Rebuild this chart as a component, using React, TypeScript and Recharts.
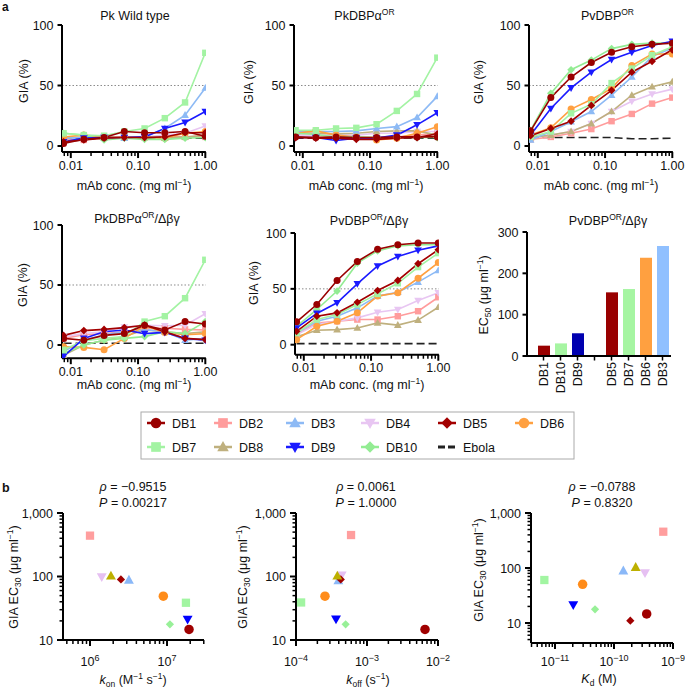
import React from 'react';
import { LineChart, Line, XAxis, YAxis, ReferenceLine, BarChart, Bar, Cell, ScatterChart, Scatter } from 'recharts';

const FONT = '"Liberation Sans", Arial, Helvetica, sans-serif';

// ---------- data ----------
const concentrations = [0.0078125, 0.015625, 0.03125, 0.0625, 0.125, 0.25, 0.5, 1];
const concTicks = [0.008, 0.009, 0.01, 0.02, 0.03, 0.04, 0.05, 0.06, 0.07, 0.08, 0.09, 0.1, 0.2, 0.3, 0.4, 0.5, 0.6, 0.7, 0.8, 0.9, 1];
const seriesOrder = ['Ebola', 'DB2', 'DB4', 'DB8', 'DB3', 'DB6', 'DB10', 'DB7', 'DB9', 'DB5', 'DB1'];
const legendRow1 = ['DB1', 'DB2', 'DB3', 'DB4', 'DB5', 'DB6'];
const legendRow2 = ['DB7', 'DB8', 'DB9', 'DB10', 'Ebola'];

const pkWildType: Record<string, number[]> = {
  DB1: [2, 5.5, 7, 12, 11, 11, 12, 8],
  DB2: [5.5, 5, 7, 7, 7, 7.5, 7.5, 7.5],
  DB3: [6.5, 7, 7, 6.5, 7.5, 14.5, 25.5, 48],
  DB4: [7, 7.5, 7.5, 7.5, 7.5, 9, 10.5, 16.5],
  DB5: [3.5, 5, 6.5, 7, 7, 7.5, 11, 11],
  DB6: [7.5, 9, 7.5, 7.5, 7, 6.5, 10.5, 12],
  DB7: [10.5, 9, 8.5, 12, 14.5, 23, 36, 77],
  DB8: [6.5, 7, 7, 7, 7.5, 6.5, 7.5, 9],
  DB9: [3.5, 6.5, 7, 7, 7.5, 14.5, 19.5, 28.5],
  DB10: [10.5, 9, 5, 6.5, 5.5, 5.5, 6.5, 7],
  Ebola: [6.5, 6.5, 6.5, 6.5, 6.5, 6.5, 6.5, 6.5],
};
const pkDbpAlpha: Record<string, number[]> = {
  DB1: [7.5, 7, 7.5, 7, 7, 7.5, 7.5, 7.5],
  DB2: [9, 8.5, 8.5, 7.5, 7, 7.5, 9, 10.5],
  DB3: [12, 12, 12, 12.5, 14.5, 16, 23.5, 41],
  DB4: [9, 9, 9, 9, 10.5, 10.5, 12, 12],
  DB5: [7, 6.5, 6.5, 5.5, 5.5, 6.5, 7, 10],
  DB6: [10.5, 12.5, 9, 7.5, 5, 6.5, 10.5, 16],
  DB7: [13, 13, 14.5, 15, 18, 29, 43, 73],
  DB8: [11, 10.5, 10, 10.5, 12, 12.5, 12.5, 9],
  DB9: [7, 7, 4.5, 6.5, 6.5, 9, 17.5, 27.5],
  DB10: [10.5, 9.5, 7.5, 7.5, 7, 7, 7, 7],
  Ebola: [6.5, 6.5, 6.5, 6.5, 6.5, 6.5, 6.5, 6.5],
};
const pvDbp: Record<string, number[]> = {
  DB1: [12.5, 40, 57, 69, 77.5, 82, 84, 85],
  DB2: [5.5, 7.5, 10.5, 14, 20.5, 26.5, 35, 40],
  DB3: [5, 12, 20, 28.5, 42, 57, 74, 81],
  DB4: [7, 9, 12, 18.5, 28.5, 37, 43, 47],
  DB5: [8.5, 14.5, 20.5, 33.5, 46, 61, 70, 79.5],
  DB6: [9, 15, 30.5, 38.5, 47.5, 66.5, 76, 76],
  DB7: [7.5, 12, 27, 34.5, 52, 64, 75, 82],
  DB8: [7, 9, 12, 18.5, 28.5, 42, 49, 53],
  DB9: [9, 31, 48, 61, 71.5, 77.5, 83, 86.5],
  DB10: [13, 43.5, 63, 71, 80.5, 84, 85, 85],
  Ebola: [7, 7, 7, 7, 7, 6, 6, 6.5],
};
const pkDbpAlphaDelta: Record<string, number[]> = {
  DB1: [5.5, 4, 8, 9.5, 16.5, 12.5, 19.5, 17.5],
  DB2: [5.5, 8.5, 9.5, 11, 14, 14, 13, 12.5],
  DB3: [-5.5, 4, 8.5, 11, 13, 11, 4, 5.5],
  DB4: [7, 9.5, 11, 15, 16.5, 16, 16.5, 26],
  DB5: [8, 12, 13, 14.5, 16.5, 11, 5.5, 4.5],
  DB6: [-1.5, -2, -4, 5.5, 16, 10.5, 8.5, 9.5],
  DB7: [-4, 3.5, 5.5, 7, 19.5, 24, 39, 71],
  DB8: [-8.5, 0, 4, 7, 12.5, 11, 9.5, 11],
  DB9: [-9.5, 5.5, 11, 12.5, 9.5, 10.5, 5.5, 4],
  DB10: [-7, 0, 4, 5.5, 7, 11, 9.5, 19.5],
  Ebola: [1.5, 1.5, 1.5, 1.5, 1.5, 1.5, 1.5, 1.5],
};
const pvDbpDelta: Record<string, number[]> = {
  DB1: [20.5, 36, 57.5, 74.5, 85.5, 89.5, 91, 91],
  DB2: [9, 19.5, 21, 22.5, 22.5, 25.5, 30, 42.5],
  DB3: [10.5, 21, 25.5, 33, 43.5, 47, 56, 66.5],
  DB4: [9, 18, 21, 24, 29, 31.5, 39.5, 46.5],
  DB5: [12, 25.5, 28.5, 38, 48.5, 57.5, 72.5, 85],
  DB6: [4.5, 16.5, 21, 28.5, 43.5, 46.5, 59.5, 73.5],
  DB7: [10.5, 22.5, 27, 36, 45.5, 55, 69.5, 82],
  DB8: [7, 13, 13.5, 15, 19.5, 17.5, 22, 33.5],
  DB9: [15, 28, 37.5, 54.5, 70.5, 79, 84.5, 88.5],
  DB10: [16.5, 31.5, 48, 73, 84, 88.5, 89.5, 89.5],
  Ebola: [1, 1, 1, 1, 1, 1, 1, 1],
};

const ec50Names = ['DB1', 'DB10', 'DB9', ' ', 'DB5', 'DB7', 'DB6', 'DB3'];
const ec50Values = [25, 30.5, 55, null, 154, 162, 238, 266];
const ec50Colors = ['#990000', '#A6F5A2', '#0000B0', '#fff', '#990000', '#A6F5A2', '#FFA040', '#90C0FF'];

const scatterNames = ['DB1', 'DB2', 'DB3', 'DB4', 'DB5', 'DB6', 'DB7', 'DB8', 'DB9', 'DB10'];
const kon = [1.93e7, 1.0e6, 3.2e6, 1.42e6, 2.52e6, 8.95e6, 1.76e7, 1.87e6, 1.85e7, 1.09e7];
const ec30VsKon = [14.7, 440, 88, 99, 90, 49, 38.6, 102, 21.2, 17.7];
const koff = [6.56e-3, 5.96e-4, 3.95e-4, 4.4e-4, 4.27e-4, 2.56e-4, 1.18e-4, 3.82e-4, 3.66e-4, 5.0e-4];
const ec30VsKoff = [14.7, 450, 86, 105, 90, 49, 39, 102, 21.4, 17.7];
const kd = [3.58e-10, 6.84e-10, 1.44e-10, 3.35e-10, 1.89e-10, 2.94e-11, 6.6e-12, 2.33e-10, 2.04e-11, 4.77e-11];
const ec30VsKd = [14.6, 457, 89, 82, 11, 50.5, 60.5, 103, 21.3, 17.7];

// ---------- styles ----------
type Shape = 'circle' | 'square' | 'triangle' | 'triangleDown' | 'diamond' | 'dash';
const seriesStyle: Record<string, { color: string; shape: Shape; bColor?: string }> = {
  DB1: { color: '#990000', shape: 'circle', bColor: '#A00000' },
  DB2: { color: '#FF9C9C', shape: 'square', bColor: '#FF9E9E' },
  DB3: { color: '#8DBAF5', shape: 'triangle', bColor: '#8AB8F8' },
  DB4: { color: '#E8C6F2', shape: 'triangleDown', bColor: '#E6C0F2' },
  DB5: { color: '#A30000', shape: 'diamond', bColor: '#A00000' },
  DB6: { color: '#FFA040', shape: 'circle', bColor: '#FF8C1A' },
  DB7: { color: '#A3F3A3', shape: 'square', bColor: '#A2F5A2' },
  DB8: { color: '#BFB07E', shape: 'triangle', bColor: '#BDB000' },
  DB9: { color: '#1A1AFF', shape: 'triangleDown', bColor: '#0000FF' },
  DB10: { color: '#93EC93', shape: 'diamond', bColor: '#98F098' },
  Ebola: { color: '#111', shape: 'dash' },
};

function Marker({ cx, cy, shape, color, size }: { cx: number; cy: number; shape: Shape; color: string; size: number }) {
  if (cx == null || cy == null || isNaN(cx) || isNaN(cy)) return null;
  const s = size / 2;
  switch (shape) {
    case 'circle':
      return <circle cx={cx} cy={cy} r={s} fill={color} />;
    case 'square':
      return <rect x={cx - s * 0.92} y={cy - s * 0.92} width={size * 0.92} height={size * 0.92} fill={color} />;
    case 'triangle':
      return <polygon points={`${cx},${cy - s * 1.15} ${cx + s * 1.1},${cy + s * 0.8} ${cx - s * 1.1},${cy + s * 0.8}`} fill={color} />;
    case 'triangleDown':
      return <polygon points={`${cx},${cy + s * 1.15} ${cx + s * 1.1},${cy - s * 0.8} ${cx - s * 1.1},${cy - s * 0.8}`} fill={color} />;
    case 'diamond':
      return <polygon points={`${cx},${cy - s * 1.1} ${cx + s * 1.1},${cy} ${cx},${cy + s * 1.1} ${cx - s * 1.1},${cy}`} fill={color} />;
    default:
      return <rect x={cx - s} y={cy - 1.2} width={size} height={2.4} fill={color} />;
  }
}

// ---------- axis ticks ----------
const isMajor = (v: number, majors: number[]) => majors.some((m) => Math.abs(v - m) <= Math.abs(m) * 1e-6);

function XTick(props: any) {
  const { x, y, payload, majors, fmt, off, majLen = 6, minLen = 4 } = props;
  const v = payload.value;
  const maj = isMajor(v, majors);
  return (
    <g>
      <line x1={x} x2={x} y1={y} y2={y + (maj ? majLen : minLen)} stroke="#000" strokeWidth={maj ? 2 : 1.5} />
      {maj && (
        <text x={x} y={y + off} textAnchor="middle" fontSize={12.5} fontFamily={FONT} fill="#111">
          {fmt(v)}
        </text>
      )}
    </g>
  );
}

function YTick(props: any) {
  const { x, y, payload, majors, fmt, gap = 8.5, majLen = 4.5, minLen = 3.5 } = props;
  const v = payload.value;
  const maj = majors ? isMajor(v, majors) : true;
  return (
    <g>
      <line x1={x} x2={x - (maj ? majLen : minLen)} y1={y} y2={y} stroke="#000" strokeWidth={maj ? 2 : 1.5} />
      {maj && (
        <text x={x - gap} y={y} dy="0.36em" textAnchor="end" fontSize={12.5} fontFamily={FONT} fill="#111">
          {fmt ? fmt(v) : String(v)}
        </text>
      )}
    </g>
  );
}

function PowTen({ exp }: { exp: string }) {
  return (
    <>
      <tspan>10</tspan>
      <tspan dy={-5} fontSize={9}>{exp}</tspan>
    </>
  );
}

function PowTick(props: any) {
  const { x, y, payload, majors, labels, base } = props;
  const v = payload.value;
  const idx = majors.findIndex((m: number) => Math.abs(v - m) <= Math.abs(m) * 1e-6);
  const maj = idx >= 0;
  return (
    <g>
      <line x1={x} x2={x} y1={y} y2={y + (maj ? 6 : 4)} stroke="#000" strokeWidth={maj ? 2 : 1.5} />
      {maj && (
        <text x={x} y={base} textAnchor="middle" fontSize={12.5} fontFamily={FONT} fill="#111">
          <PowTen exp={labels[idx]} />
        </text>
      )}
    </g>
  );
}

// ---------- layout helpers ----------
const YW = 45, XH = 40, MT = 6, MR = 24;
const axisLine = { stroke: '#000', strokeWidth: 2 };

function frame(x0: number, y0: number, x1: number, y1: number) {
  return {
    style: { position: 'absolute' as const, left: x0 - YW, top: y0 - MT },
    width: x1 - x0 + YW + MR,
    height: y1 - y0 + MT + XH,
    margin: { top: MT, right: MR, left: 0, bottom: 0 },
  };
}

const makeRows = (panel: Record<string, number[]>) =>
  concentrations.map((c, i) => {
    const row: Record<string, number> = { conc: c };
    Object.keys(panel).forEach((k) => (row[k] = panel[k][i]));
    return row;
  });

function GiaPanel({ data, x0, y0, x1, y1, yDomain }: { data: Record<string, number[]>; x0: number; y0: number; x1: number; y1: number; yDomain: [number, number] }) {
  const f = frame(x0, y0, x1, y1);
  const rows = makeRows(data);
  return (
    <div style={f.style}>
      <LineChart width={f.width} height={f.height} data={rows} margin={f.margin}>
        <XAxis
          dataKey="conc"
          type="number"
          scale="log"
          domain={[0.0074, 1.02]}
          allowDataOverflow
          ticks={concTicks}
          interval={0}
          height={XH}
          tickSize={0}
          tickMargin={0}
          axisLine={axisLine}
          tickLine={false}
          tick={(p: any) => <XTick {...p} majors={[0.01, 0.1, 1]} fmt={(v: number) => v.toFixed(2)} off={17.5} />}
        />
        <YAxis
          type="number"
          domain={yDomain}
          allowDataOverflow
          ticks={[0, 50, 100]}
          interval={0}
          width={YW}
          tickSize={0}
          tickMargin={0}
          axisLine={axisLine}
          tickLine={false}
          tick={(p: any) => <YTick {...p} />}
        />
        <ReferenceLine y={50} stroke="#8a8a8a" strokeDasharray="1.5 2" strokeWidth={1} />
        {seriesOrder.map((name) => {
          const st = seriesStyle[name];
          if (name === 'Ebola') {
            return (
              <Line key={name} dataKey={name} type="linear" stroke="#222" strokeWidth={1.6} strokeDasharray="8 4" dot={false} activeDot={false} isAnimationActive={false} />
            );
          }
          return (
            <Line
              key={name}
              dataKey={name}
              type="linear"
              stroke={st.color}
              strokeWidth={1.6}
              activeDot={false}
              isAnimationActive={false}
              dot={(p: any) => <Marker key={`${name}-${p.index}`} cx={p.cx} cy={p.cy} shape={st.shape} color={st.color} size={7} />}
            />
          );
        })}
      </LineChart>
    </div>
  );
}

function Ec50Panel() {
  const x0 = 527, y0 = 232, x1 = 671, y1 = 356;
  const f = frame(x0, y0, x1, y1);
  const rows = ec50Names.map((n, i) => ({ name: n, value: ec50Values[i] }));
  return (
    <div style={f.style}>
      <BarChart width={f.width} height={f.height} data={rows} margin={f.margin} barCategoryGap={0}>
        <XAxis
          dataKey="name"
          type="category"
          padding={{ left: 8, right: 0 }}
          height={XH}
          interval={0}
          tickSize={0}
          tickMargin={0}
          axisLine={axisLine}
          tickLine={false}
          tick={(p: any) => (
            <g>
              <line x1={p.x} x2={p.x} y1={p.y} y2={p.y + 4.5} stroke="#000" strokeWidth={1.5} />
              {String(p.payload.value).trim() && (
                <text transform={`translate(${p.x},${p.y + 6}) rotate(-90)`} textAnchor="end" dy="0.36em" fontSize={12.5} fontFamily={FONT} fill="#111">
                  {p.payload.value}
                </text>
              )}
            </g>
          )}
        />
        <YAxis
          type="number"
          domain={[0, 300]}
          allowDataOverflow
          ticks={[0, 100, 200, 300]}
          interval={0}
          width={YW}
          tickSize={0}
          tickMargin={0}
          axisLine={axisLine}
          tickLine={false}
          tick={(p: any) => <YTick {...p} />}
        />
        <Bar dataKey="value" barSize={12} isAnimationActive={false}>
          {rows.map((r, i) => (
            <Cell key={r.name + i} fill={ec50Colors[i]} />
          ))}
        </Bar>
      </BarChart>
    </div>
  );
}

const logTicks = (lo: number, hi: number) => {
  const out: number[] = [];
  for (let e = Math.floor(Math.log10(lo)); e <= Math.ceil(Math.log10(hi)); e++) {
    for (let m = 1; m <= 9; m++) {
      const v = parseFloat((m * Math.pow(10, e)).toPrecision(6));
      if (v >= lo * 0.999 && v <= hi * 1.001) out.push(v);
    }
  }
  return out;
};

function ScatterPanel({ xs, ys, x0, y0, x1, y1, xDomain, yDomain, xMajors, xLabels }: any) {
  const f = frame(x0, y0, x1, y1);
  return (
    <div style={f.style}>
      <ScatterChart width={f.width} height={f.height} margin={f.margin}>
        <XAxis
          dataKey="x"
          type="number"
          scale="log"
          domain={xDomain}
          allowDataOverflow
          ticks={logTicks(xDomain[0], xDomain[1])}
          interval={0}
          height={XH}
          tickSize={0}
          tickMargin={0}
          axisLine={axisLine}
          tickLine={false}
          tick={(p: any) => <PowTick {...p} majors={xMajors} labels={xLabels} base={665.5 - y1 + p.y} />}
        />
        <YAxis
          dataKey="y"
          type="number"
          scale="log"
          domain={yDomain}
          allowDataOverflow
          ticks={logTicks(yDomain[0], yDomain[1])}
          interval={0}
          width={YW}
          tickSize={0}
          tickMargin={0}
          axisLine={axisLine}
          tickLine={false}
          tick={(p: any) => (
            <YTick {...p} majors={[10, 100, 1000]} gap={10} majLen={6} minLen={3.5} fmt={(v: number) => (v === 1000 ? '1,000' : String(v))} />
          )}
        />
        {scatterNames.map((name, i) => {
          const st = seriesStyle[name];
          const size = st.shape === 'square' ? 9 : st.shape === 'diamond' ? 7.5 : st.shape === 'circle' ? 9.5 : 9;
          return (
            <Scatter
              key={name}
              data={[{ x: xs[i], y: ys[i] }]}
              isAnimationActive={false}
              shape={(p: any) => <Marker cx={p.cx} cy={p.cy} shape={st.shape} color={st.bColor || st.color} size={size} />}
            />
          );
        })}
      </ScatterChart>
    </div>
  );
}

// ---------- text overlay ----------
function Sup({ t }: { t: string }) {
  return (
    <>
      <tspan dy={-5} fontSize={8.5}>{t}</tspan>
      <tspan dy={5}>{'\u200a'}</tspan>
    </>
  );
}

function MabLabel({ x, y }: { x: number; y: number }) {
  return (
    <text x={x} y={y} textAnchor="middle">
      mAb conc. (mg ml<tspan dy={-5} fontSize={8.5}>−1</tspan>
      <tspan dy={5}>)</tspan>
    </text>
  );
}

function GiaLabel({ x, y }: { x: number; y: number }) {
  return (
    <text transform={`translate(${x},${y}) rotate(-90)`} textAnchor="middle" dy="0.36em">
      GIA (%)
    </text>
  );
}

function Ec30Label({ x, y }: { x: number; y: number }) {
  return (
    <text transform={`translate(${x},${y}) rotate(-90)`} textAnchor="middle" dy="0.36em">
      GIA EC<tspan dy={3} fontSize={8.5}>30</tspan>
      <tspan dy={-3}> (μg ml</tspan>
      <tspan dy={-5} fontSize={8.5}>−1</tspan>
      <tspan dy={5}>)</tspan>
    </text>
  );
}

function Stats({ x, rho, p }: { x: number; rho: string; p: string }) {
  return (
    <>
      <text x={x} y={490.5} textAnchor="middle">
        <tspan fontStyle="italic">ρ</tspan> = {rho}
      </text>
      <text x={x} y={506.5} textAnchor="middle">
        <tspan fontStyle="italic">P</tspan> = {p}
      </text>
    </>
  );
}

function LegendItem({ name, tx, y }: { name: string; tx: number; y: number }) {
  const st = seriesStyle[name];
  const cx = tx - 16;
  if (name === 'Ebola') {
    return (
      <g>
        <rect x={cx - 9} y={y - 1.5} width={7} height={3} fill="#222" />
        <rect x={cx + 1} y={y - 1.5} width={7} height={3} fill="#222" />
        <text x={tx} y={y} dy="0.36em">{name}</text>
      </g>
    );
  }
  return (
    <g>
      <line x1={cx - 9} x2={cx + 9} y1={y} y2={y} stroke={st.color} strokeWidth={2.5} />
      <Marker cx={cx} cy={y} shape={st.shape} color={st.color} size={10.5} />
      <text x={tx} y={y} dy="0.36em">{name}</text>
    </g>
  );
}

function Overlay() {
  const legendX = [172, 239, 311, 386, 463, 540];
  return (
    <svg width={685} height={688} style={{ position: 'absolute', left: 0, top: 0, pointerEvents: 'none' }} fontFamily={FONT} fontSize={12.5} fill="#111">
      <text x={2} y={11} fontWeight="bold" fontSize={12}>a</text>
      <text x={2} y={492} fontWeight="bold" fontSize={12.5}>b</text>

      <text x={135} y={19.5} textAnchor="middle">Pk Wild type</text>
      <text x={365} y={19.5} textAnchor="middle">PkDBPα<Sup t="OR" /></text>
      <text x={608} y={19.5} textAnchor="middle">PvDBP<Sup t="OR" /></text>
      <text x={137} y={222.5} textAnchor="middle">
        PkDBPα<tspan dy={-5} fontSize={8.5}>OR</tspan>
        <tspan dy={5}>/Δβγ</tspan>
      </text>
      <text x={369} y={224.5} textAnchor="middle">
        PvDBP<tspan dy={-5} fontSize={8.5}>OR</tspan>
        <tspan dy={5}>/Δβγ</tspan>
      </text>
      <text x={608} y={224.5} textAnchor="middle">
        PvDBP<tspan dy={-5} fontSize={8.5}>OR</tspan>
        <tspan dy={5}>/Δβγ</tspan>
      </text>

      <MabLabel x={134} y={189.5} />
      <MabLabel x={366} y={189.5} />
      <MabLabel x={601} y={189.5} />
      <MabLabel x={134} y={389} />
      <MabLabel x={367} y={389} />

      <GiaLabel x={23} y={81} />
      <GiaLabel x={248} y={82} />
      <GiaLabel x={478} y={82} />
      <GiaLabel x={22.5} y={285} />
      <GiaLabel x={253} y={283} />
      <text transform="translate(483,295) rotate(-90)" textAnchor="middle" dy="0.36em">
        EC<tspan dy={3} fontSize={8.5}>50</tspan>
        <tspan dy={-3}> (μg ml</tspan>
        <tspan dy={-5} fontSize={8.5}>−1</tspan>
        <tspan dy={5}>)</tspan>
      </text>

      <rect x={141} y={412} width={433} height={47} fill="none" stroke="#aaa" strokeWidth={1} />
      {legendRow1.map((n, i) => (
        <LegendItem key={n} name={n} tx={legendX[i]} y={423} />
      ))}
      {legendRow2.map((n, i) => (
        <LegendItem key={n} name={n} tx={legendX[i]} y={447} />
      ))}

      <Stats x={133} rho="−0.9515" p="0.00217" />
      <Stats x={366} rho="0.0061" p="1.0000" />
      <Stats x={602} rho="−0.0788" p="0.8320" />

      <Ec30Label x={13} y={577} />
      <Ec30Label x={242} y={577} />
      <Ec30Label x={478} y={570} />

      <text x={133} y={683.5} textAnchor="middle">
        <tspan fontStyle="italic">k</tspan>
        <tspan dy={3} fontSize={8.5}>on</tspan>
        <tspan dy={-3}> (M</tspan>
        <tspan dy={-5} fontSize={8.5}>−1</tspan>
        <tspan dy={5}> s</tspan>
        <tspan dy={-5} fontSize={8.5}>−1</tspan>
        <tspan dy={5}>)</tspan>
      </text>
      <text x={368} y={683.5} textAnchor="middle">
        <tspan fontStyle="italic">k</tspan>
        <tspan dy={3} fontSize={8.5}>off</tspan>
        <tspan dy={-3}> (s</tspan>
        <tspan dy={-5} fontSize={8.5}>−1</tspan>
        <tspan dy={5}>)</tspan>
      </text>
      <text x={599} y={682.5} textAnchor="middle">
        <tspan fontStyle="italic">K</tspan>
        <tspan dy={3} fontSize={8.5}>d</tspan>
        <tspan dy={-3}> (M)</tspan>
      </text>
    </svg>
  );
}

export default function App() {
  return (
    <div style={{ position: 'absolute', left: 0, top: 0, width: 685, height: 688, background: '#fff', fontFamily: FONT, overflow: 'hidden' }}>
      <GiaPanel data={pkWildType} x0={61.7} y0={25} x1={205.6} y1={152.05} yDomain={[-5, 100]} />
      <GiaPanel data={pkDbpAlpha} x0={294.4} y0={25} x1={438.3} y1={152.05} yDomain={[-5, 100]} />
      <GiaPanel data={pvDbp} x0={529.4} y0={25} x1={673.3} y1={152.05} yDomain={[-5, 100]} />
      <GiaPanel data={pkDbpAlphaDelta} x0={61.7} y0={225} x1={205.6} y1={358.2} yDomain={[-11, 100]} />
      <GiaPanel data={pvDbpDelta} x0={295} y0={233.3} x1={438.9} y1={355.05} yDomain={[-9, 100]} />
      <Ec50Panel />
      <ScatterPanel xs={kon} ys={ec30VsKon} x0={63} y0={513} x1={204} y1={640} xDomain={[4.46e5, 3.02e7]} yDomain={[10, 1000]} xMajors={[1e6, 1e7]} xLabels={['6', '7']} />
      <ScatterPanel xs={koff} ys={ec30VsKoff} x0={296} y0={513} x1={438} y1={640} xDomain={[1e-4, 1e-2]} yDomain={[10, 1000]} xMajors={[1e-4, 1e-3, 1e-2]} xLabels={['−4', '−3', '−2']} />
      <ScatterPanel xs={kd} ys={ec30VsKd} x0={531} y0={513} x1={673} y1={643} xDomain={[3.92e-12, 1e-9]} yDomain={[4.33, 1000]} xMajors={[1e-11, 1e-10, 1e-9]} xLabels={['−11', '−10', '−9']} />
      <Overlay />
    </div>
  );
}
